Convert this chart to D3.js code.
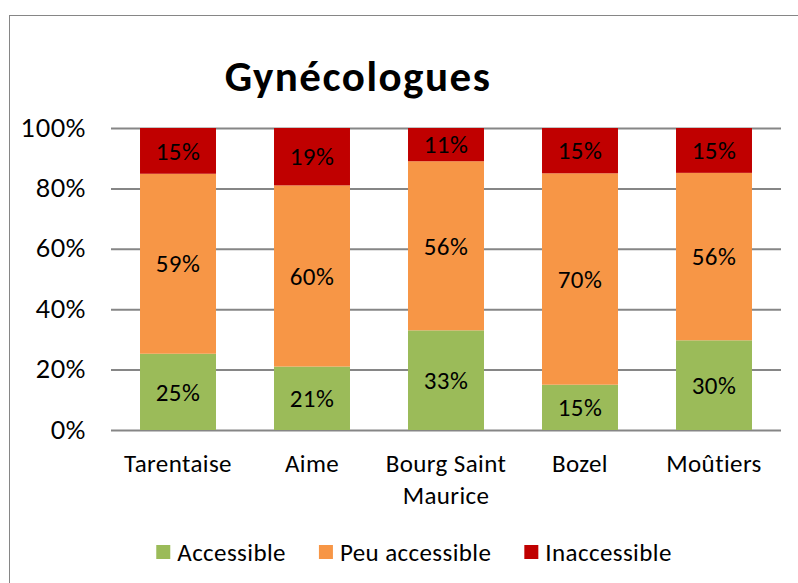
<!DOCTYPE html>
<html>
<head>
<meta charset="utf-8">
<script src="https://cdn.jsdelivr.net/npm/d3@7"></script>
<style>
  body { margin: 0; background: #fff; }
  svg text { font-family: Carlito, Lato, "Open Sans", sans-serif; fill: #000; }
</style>
</head>
<body>
<div id="chart"></div>
<script>
// data (percent labels as shown)
const sites = ["Tarentaise", "Aime", "Bourg Saint Maurice", "Bozel", "Moûtiers"];
const accessible = [25, 21, 33, 15, 30];
const peuAccessible = [59, 60, 56, 70, 56];
const inaccessible = [15, 19, 11, 15, 15];
const seriesNames = ["Accessible", "Peu accessible", "Inaccessible"];
const seriesColors = ["#9BBB59", "#F79646", "#C00000"];
const yTicks = [0, 0.2, 0.4, 0.6, 0.8, 1];

const width = 798, height = 583;
const margin = { top: 128, right: 17, bottom: 153, left: 111 };
const fs = "25px";
const ls = "0.4px";

const svg = d3.select("#chart").append("svg")
  .attr("width", width)
  .attr("height", height);

// chart border
svg.append("rect")
  .attr("x", 9.5).attr("y", 15.5)
  .attr("width", 800).attr("height", 600)
  .attr("fill", "none")
  .attr("stroke", "#868686")
  .attr("stroke-width", 1);

// build rows for the stack
const rows = sites.map((s, i) => ({
  site: s,
  "Accessible": accessible[i],
  "Peu accessible": peuAccessible[i],
  "Inaccessible": inaccessible[i]
}));

const stacked = d3.stack()
  .keys(seriesNames)
  .offset(d3.stackOffsetExpand)(rows);

const x = d3.scaleBand()
  .domain(sites)
  .range([margin.left, width - margin.right])
  .paddingInner(0.433)
  .paddingOuter(0.2165);

const y = d3.scaleLinear()
  .domain([0, 1])
  .range([height - margin.bottom, margin.top]);

const color = d3.scaleOrdinal().domain(seriesNames).range(seriesColors);

// gridlines + y labels
const yAxis = d3.axisLeft(y)
  .tickValues(yTicks)
  .tickFormat(d3.format(".0%"))
  .tickSize(-(width - margin.right - margin.left))
  .tickPadding(25);

const gy = svg.append("g")
  .attr("transform", "translate(" + margin.left + ",0)")
  .call(yAxis);
gy.select(".domain").remove();
gy.selectAll(".tick line").attr("stroke", "#868686").attr("stroke-width", 2);
gy.selectAll(".tick text")
  .style("font-size", fs)
  .style("letter-spacing", ls)
  .style("font-family", "Lato, sans-serif");

// bars
const layer = svg.append("g").selectAll("g")
  .data(stacked)
  .enter().append("g")
  .attr("fill", d => color(d.key));

layer.selectAll("rect")
  .data(d => d)
  .enter().append("rect")
  .attr("x", d => x(d.data.site))
  .attr("y", d => y(d[1]))
  .attr("width", x.bandwidth())
  .attr("height", d => y(d[0]) - y(d[1]));

// value labels
stacked.forEach(s => {
  svg.append("g").selectAll("text")
    .data(s)
    .enter().append("text")
    .attr("x", d => x(d.data.site) + x.bandwidth() / 2)
    .attr("y", d => (y(d[0]) + y(d[1])) / 2)
    .attr("dy", "0.35em")
    .attr("text-anchor", "middle")
    .style("font-size", fs)
    .style("letter-spacing", ls)
    .text(d => d.data[s.key] + "%");
});

// x labels (wrapped)
const xLabelLines = {
  "Tarentaise": ["Tarentaise"],
  "Aime": ["Aime"],
  "Bourg Saint Maurice": ["Bourg Saint", "Maurice"],
  "Bozel": ["Bozel"],
  "Moûtiers": ["Moûtiers"]
};
const gx = svg.append("g");
sites.forEach(s => {
  const t = gx.append("text")
    .attr("x", x(s) + x.bandwidth() / 2)
    .attr("y", 472)
    .attr("text-anchor", "middle")
    .style("font-size", fs)
    .style("letter-spacing", ls);
  xLabelLines[s].forEach((line, i) => {
    t.append("tspan")
      .attr("x", x(s) + x.bandwidth() / 2)
      .attr("dy", i === 0 ? 0 : 32)
      .text(line);
  });
});

// title
svg.append("text")
  .attr("x", 358)
  .attr("y", 91)
  .attr("text-anchor", "middle")
  .style("font-size", "43px")
  .style("font-weight", "bold")
  .style("letter-spacing", "1.5px")
  .text("Gynécologues");

// legend
const legend = svg.append("g");
let lx = 0;
seriesNames.forEach((name, i) => {
  const g = legend.append("g").attr("transform", "translate(" + lx + ",0)");
  g.append("rect")
    .attr("x", 0).attr("y", -7)
    .attr("width", 14).attr("height", 14)
    .attr("fill", seriesColors[i]);
  const t = g.append("text")
    .attr("x", 21)
    .attr("y", 0)
    .attr("dy", "0.35em")
    .style("font-size", fs)
    .style("letter-spacing", ls)
    .text(name);
  lx += 21 + t.node().getComputedTextLength() + 33;
});
lx -= 33;
legend.attr("transform", "translate(" + (414 - lx / 2) + ",552)");
</script>
</body>
</html>
